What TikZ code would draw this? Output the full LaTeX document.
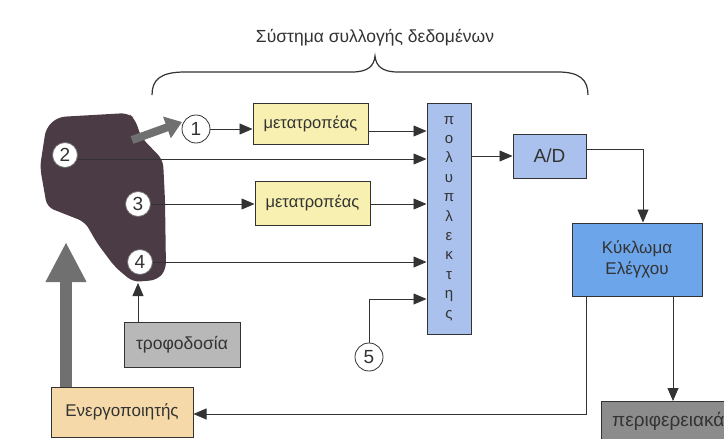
\documentclass[tikz,border=0pt]{standalone}
\usepackage{fontspec}
\setmainfont{Liberation Sans}
\usetikzlibrary{arrows.meta,calc}
\definecolor{blobc}{HTML}{4B3B44}
\definecolor{yelc}{HTML}{F7F0B0}
\definecolor{muxc}{HTML}{A9C1EC}
\definecolor{kykc}{HTML}{6CA5EA}
\definecolor{trofc}{HTML}{B8B8B8}
\definecolor{peric}{HTML}{8C8C8C}
\definecolor{energc}{HTML}{F5D9A9}
\definecolor{linec}{HTML}{333333}
\definecolor{thickc}{HTML}{707070}
\begin{document}
\begin{tikzpicture}[x=1pt,y=-1pt,
  box/.style={draw=linec,line width=1pt,minimum width=#1,inner sep=0pt,font=\fontsize{16.5}{18}\selectfont,text=linec},
  num/.style={circle,draw=linec!70,fill=white,line width=0.8pt,inner sep=0pt,minimum size=#1,font=\fontsize{19}{19}\selectfont,text=linec},
  arr/.style={draw=linec,line width=0.8pt,-{Triangle[length=13pt,width=11pt]}},
  ln/.style={draw=linec,line width=0.8pt}]
\useasboundingbox (0,0) rectangle (724,439);
\fill[white] (0,0) rectangle (724,439);
% title and brace
\node[font=\fontsize{17.5}{19}\selectfont,text=linec] (title) at (375,38) {Σύστημα συλλογής δεδομένων};
\draw[linec,line width=1.2pt] (152,95) .. controls (152,80) and (160,72) .. (185,72) -- (352,72)
  .. controls (368,72) and (374,66) .. (375,56) .. controls (376,66) and (382,72) .. (398,72)
  -- (558,72) .. controls (580,72) and (588,80) .. (588,95);
% blob
\fill[blobc,rounded corners=7pt] (46,128) -- (58,117) -- (128,113) -- (135,119) -- (141,137) -- (163,160)
  -- (165,200) -- (166,270) -- (157,280) -- (133,282) -- (115,267) -- (97,243) -- (85,222)
  -- (47,207) -- (40,167) -- cycle;
\node[num=25pt] (c2) at (65,155) {2};
\node[num=25pt] (c3) at (138,204) {3};
\node[num=25pt] (c4) at (140,262) {4};
\node[num=28pt,draw=linec] (c1) at (196,129) {1};
\node[num=28pt,draw=linec] (c5) at (369,357) {5};
% boxes
\node[box=115pt,minimum height=41pt,fill=yelc] (b1) at (310.5,123.5) {μετατροπέας};
\node[box=115pt,minimum height=44pt,fill=yelc] (b2) at (312.5,203) {μετατροπέας};
\node[box=44pt,minimum height=231pt,fill=muxc,align=center,font=\fontsize{15}{19.4}\selectfont] (mux) at (449,218.5)
  {π\\ο\\λ\\υ\\π\\λ\\ε\\κ\\τ\\η\\ς};
\node[box=73pt,minimum height=44pt,fill=muxc,font=\fontsize{19}{20}\selectfont] (ad) at (549.5,156) {A/D};
\node[box=130pt,minimum height=73pt,fill=kykc,align=center,font=\fontsize{17}{21}\selectfont] (kyk) at (637,259.5) {Κύκλωμα\\Ελέγχου};
\node[box=116pt,minimum height=45pt,fill=trofc,font=\fontsize{17.5}{19}\selectfont] (trof) at (182,344.5) {τροφοδοσία};
\node[box=142pt,minimum height=50pt,fill=energc,font=\fontsize{17}{19}\selectfont] (energ) at (122,412) {Ενεργοποιητής};
\node[draw=linec,line width=1pt,fill=peric,minimum width=130pt,minimum height=46pt,inner sep=0pt,anchor=north west] (peri) at (601,401) {};
\node[anchor=west,font=\fontsize{19}{20}\selectfont,text=linec,inner sep=0pt] (peritxt) at (612,421) {περιφερειακά};
% thick arrows
\coordinate (t1s) at (132,140);
\coordinate (t1e) at (182,122);
\draw[thickc,line width=8pt,-{Triangle[length=16pt,width=22pt]}] (t1s) -- (t1e);
\coordinate (t2e) at (66,242);
\draw[thickc,line width=12pt,-{Triangle[length=40pt,width=38pt]}] (energ.north -| t2e) -- (t2e);
% signal lines
\draw[arr] (c1) -- (b1.west |- c1);
\draw[arr] (b1.east |- 0,131) -- (mux.west |- 0,131);
\draw[arr] (c2.east |- 0,159) -- (mux.west |- 0,159);
\draw[arr] (c3) -- (b2.west |- c3);
\draw[arr] (b2.east |- c3) -- (mux.west |- c3);
\draw[arr] (c4) -- (mux.west |- c4);
\draw[arr] (c5) -- (c5 |- 0,299) -- (mux.west |- 0,299);
\draw[arr] (mux.east |- ad) -- (ad);
\draw[arr] (ad.east |- 0,149) -- (643,149) -- (kyk.north -| 643,0);
\coordinate (kl) at (586,414);
\draw[arr] (kyk.south -| kl) -- (kl) -- (energ.east |- kl);
\draw[arr] (kyk.south -| 673,0) -- (peri.north -| 673,0);
\draw[arr] (trof.north -| 138,0) -- (138,283);
\end{tikzpicture}
\end{document}
